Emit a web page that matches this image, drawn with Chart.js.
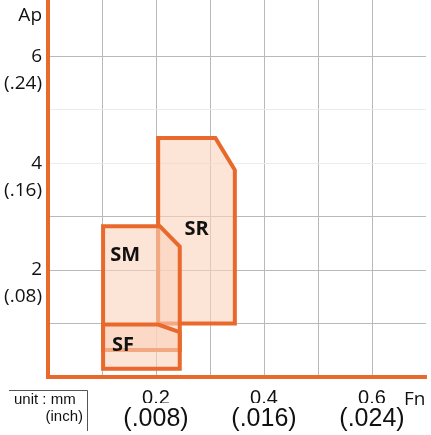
<!DOCTYPE html>
<html>
<head>
<meta charset="utf-8">
<script src="https://cdn.jsdelivr.net/npm/chart.js@4.4.1/dist/chart.umd.min.js"></script>
<style>
  html, body { margin: 0; padding: 0; background: #fff; }
  #wrap { width: 431px; height: 435px; }
</style>
</head>
<body>
<div id="wrap"><canvas id="chart"></canvas></div>
<script>
// grid lines
const xGrid = [0, 0.1, 0.2, 0.3, 0.4, 0.5, 0.6, 0.7];
const yGrid = [0, 1, 2, 3, 4, 5, 6, 7];

// tick labels (mm, then inch underneath)
const xTickValues = [0.2, 0.4, 0.6];
const xTickMm = ['0.2', '0.4', '0.6'];
const xTickInch = ['(.008)', '(.016)', '(.024)'];

const yTickValues = [2, 4, 6];
const yTickMm = ['2', '4', '6'];
const yTickInch = ['(.08)', '(.16)', '(.24)'];

// chipbreaker regions: feed (Fn) / depth of cut (Ap) outlines
const regionNames = ['SF', 'SM', 'SR'];
const sfFeed  = [0.102, 0.102, 0.204, 0.244, 0.244, 0.102];
const sfDepth = [0.155, 0.98, 0.98, 0.84, 0.155, 0.155];
const smFeed  = [0.102, 0.102, 0.207, 0.244, 0.244, 0.102];
const smDepth = [0.505, 2.82, 2.82, 2.44, 0.505, 0.505];
const srFeed  = [0.204, 0.204, 0.31, 0.346, 0.346, 0.204];
const srDepth = [1.0, 4.47, 4.47, 3.87, 1.0, 1.0];

// where the region names sit
const labelFeed  = [0.139, 0.143, 0.275];
const labelDepth = [0.6, 2.27, 2.76];

const ORANGE = '#e9692c';
const FILL = 'rgba(250, 210, 187, 0.6)';
const GRID = '#b9b9b9';
const GRID_LIGHT = '#ececec';
const fadedY = [4, 5];

const toPoints = (xs, ys) => xs.map((v, i) => ({ x: v, y: ys[i] }));

function region(label, xs, ys, order) {
  return {
    label: label,
    data: toPoints(xs, ys),
    showLine: true,
    fill: 'shape',
    backgroundColor: FILL,
    borderColor: ORANGE,
    borderWidth: 4,
    borderJoinStyle: 'miter',
    borderCapStyle: 'square',
    pointRadius: 0,
    tension: 0,
    order: order
  };
}

function findIdx(list, v) {
  return list.findIndex(t => Math.abs(t - v) < 1e-6);
}

// no extra room around the axes for half-labels
function noPad(s) {
  s.paddingTop = 0;
  s.paddingBottom = 0;
  s.paddingLeft = 0;
  s.paddingRight = 0;
}

const annotations = {
  id: 'annotations',
  afterDatasetsDraw(chart) {
    const { ctx, scales: { x, y } } = chart;
    ctx.save();
    ctx.fillStyle = '#111';
    ctx.font = 'bold 20px "Open Sans"';
    ctx.textAlign = 'center';
    ctx.textBaseline = 'middle';
    regionNames.forEach((n, i) => {
      ctx.fillText(n, x.getPixelForValue(labelFeed[i]), y.getPixelForValue(labelDepth[i]));
    });
    ctx.restore();
  },
  afterDraw(chart) {
    const ctx = chart.ctx;
    ctx.save();
    ctx.fillStyle = '#111';
    ctx.textBaseline = 'alphabetic';

    ctx.font = '19px "Open Sans"';
    ctx.textAlign = 'right';
    ctx.fillText('Ap', 42, 21);
    ctx.textAlign = 'left';
    ctx.fillText('Fn', 404, 405);

    // unit box
    ctx.strokeStyle = '#555';
    ctx.lineWidth = 1;
    ctx.beginPath();
    ctx.moveTo(9, 390.5);
    ctx.lineTo(87.5, 390.5);
    ctx.lineTo(87.5, 431);
    ctx.stroke();
    ctx.font = '15px "Liberation Sans"';
    ctx.textAlign = 'left';
    ctx.fillText('unit : mm', 14, 404);
    ctx.textAlign = 'right';
    ctx.fillText('(inch)', 83, 421);
    ctx.restore();
  }
};

const config = {
  type: 'scatter',
  data: {
    datasets: [
      region(regionNames[0], sfFeed, sfDepth, 1),
      region(regionNames[1], smFeed, smDepth, 2),
      region(regionNames[2], srFeed, srDepth, 3)
    ]
  },
  options: {
    responsive: true,
    maintainAspectRatio: false,
    animation: false,
    layout: { padding: { top: 0, right: 5, bottom: 0, left: 0 } },
    plugins: {
      legend: { display: false },
      tooltip: { enabled: false }
    },
    scales: {
      x: {
        type: 'linear',
        position: 'bottom',
        weight: 0,
        min: 0,
        max: 0.7,
        afterBuildTicks: s => { s.ticks = xGrid.map(v => ({ value: v })); },
        afterFit: s => { s.height = 26; noPad(s); },
        grid: {
          drawTicks: false,
          color: ctx => (ctx.tick && ctx.tick.value >= 0.69 ? 'rgba(0,0,0,0)' : GRID),
          lineWidth: 1
        },
        border: { display: true, color: ORANGE, width: 4 },
        ticks: {
          autoSkip: false,
          maxRotation: 0,
          minRotation: 0,
          padding: 9,
          color: '#111',
          font: { family: '"Liberation Sans"', size: 20, lineHeight: 1.2 },
          callback: v => {
            const i = findIdx(xTickValues, v);
            return i < 0 ? '' : xTickMm[i];
          }
        }
      },
      x2: {
        type: 'linear',
        position: 'bottom',
        weight: 1,
        min: 0,
        max: 0.7,
        afterBuildTicks: s => { s.ticks = xGrid.map(v => ({ value: v })); },
        afterFit: s => { s.height = 32; noPad(s); },
        grid: { display: false, drawTicks: false },
        border: { display: false },
        ticks: {
          autoSkip: false,
          maxRotation: 0,
          minRotation: 0,
          padding: 4,
          color: '#111',
          font: { family: '"Liberation Sans"', size: 25, lineHeight: 1 },
          callback: v => {
            const i = findIdx(xTickValues, v);
            return i < 0 ? '' : xTickInch[i];
          }
        }
      },
      y: {
        type: 'linear',
        min: 0,
        max: 7.05,
        afterBuildTicks: s => { s.ticks = yGrid.map(v => ({ value: v })); },
        afterFit: s => { s.width = 48; noPad(s); },
        grid: {
          drawTicks: false,
          color: ctx => {
            if (!ctx.tick) return GRID;
            if (ctx.tick.value >= 7) return 'rgba(0,0,0,0)';
            return fadedY.includes(ctx.tick.value) ? GRID_LIGHT : GRID;
          },
          lineWidth: 1
        },
        border: { display: true, color: ORANGE, width: 4 },
        ticks: {
          autoSkip: false,
          padding: 6,
          labelOffset: 13.5,
          color: '#111',
          font: { family: '"Open Sans"', size: 19, lineHeight: '27px' },
          callback: v => {
            const i = findIdx(yTickValues, v);
            return i < 0 ? '' : [yTickMm[i], yTickInch[i]];
          }
        }
      }
    }
  },
  plugins: [annotations]
};

const chart = new Chart(document.getElementById('chart'), config);
</script>
</body>
</html>
